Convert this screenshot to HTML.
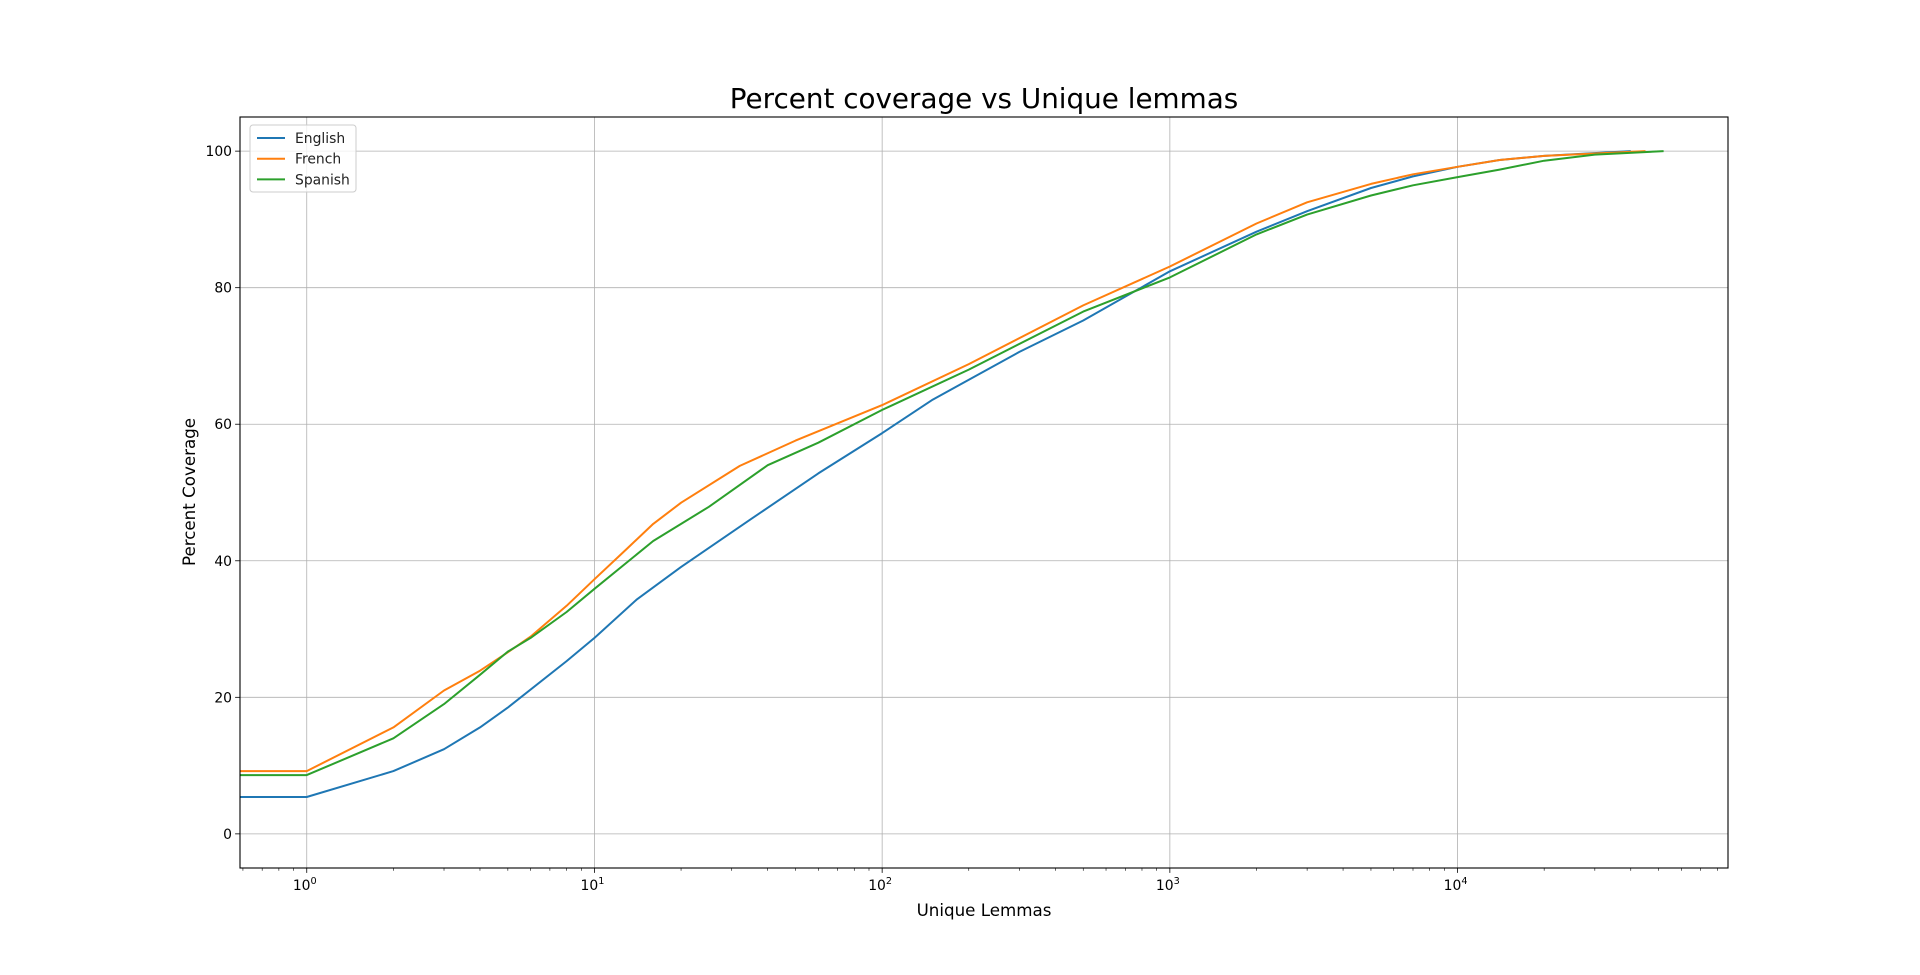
<!DOCTYPE html>
<html><head><meta charset="utf-8"><style>
html,body{margin:0;padding:0;background:#fff;}
svg{display:block;font-family:"DejaVu Sans","Liberation Sans",sans-serif;}
</style></head><body>
<svg id="chart" width="1920" height="975">
<text x="984" y="108" font-size="27.8" text-anchor="middle">Percent coverage vs Unique lemmas</text>
<g id="grid"></g>
<g id="series" clip-path="url(#clip)"></g>
<defs><clipPath id="clip"><rect x="240" y="117" width="1488" height="751"/></clipPath></defs>
<rect x="240" y="117" width="1488" height="751" fill="none" stroke="#000" stroke-width="1.1"/>
<g id="ticks"></g>
<text x="984" y="916" font-size="16.7" text-anchor="middle">Unique Lemmas</text>
<text transform="translate(195,492) rotate(-90)" font-size="16.7" text-anchor="middle">Percent Coverage</text>
<g id="legend"></g>
</svg>
<script>
const seriesNames = ["English","French","Spanish"];
const colors = ["#1f77b4","#ff7f0e","#2ca02c"];
const engX = [0,1,2,3,4,5,8,10,14,20,35,60,100,150,300,500,1000,2000,3000,5000,7000,10000,14000,20000,40000];
const engY = [5.4,5.4,9.2,12.4,15.6,18.5,25.3,28.7,34.3,39.1,46.1,52.8,58.7,63.6,70.6,75.2,82.4,88.2,91.2,94.6,96.3,97.7,98.7,99.3,100];
const freX = [0,1,2,3,4,5,6,8,10,13,16,20,32,50,100,200,500,1000,2000,3000,5000,7000,10000,14000,20000,45000];
const freY = [9.2,9.2,15.6,21,23.9,26.6,28.9,33.4,37.3,41.8,45.4,48.5,53.9,57.6,62.8,68.8,77.4,83.1,89.4,92.5,95.2,96.6,97.7,98.7,99.3,100];
const spaX = [0,1,2,3,4,5,6,8,10,16,25,40,60,100,200,500,1000,2000,3000,5000,7000,10000,14000,20000,30000,52000];
const spaY = [8.6,8.6,14,19,23.3,26.7,28.7,32.5,35.9,42.9,47.9,54.0,57.3,62.1,68,76.5,81.5,87.8,90.7,93.5,95.0,96.2,97.3,98.6,99.5,100];
const yTicks = [0,20,40,60,80,100];

const L=240,R=1728,T=117,B=868;
const lxMin=-0.232,lxMax=4.94,yMin=-5,yMax=105;
function xs(v){const lv=v<=0?lxMin-0.5:Math.log10(v);return L+(lv-lxMin)/(lxMax-lxMin)*(R-L);}
function ys(v){return B-(v-yMin)/(yMax-yMin)*(B-T);}
const NS="http://www.w3.org/2000/svg";
function mk(tag,attrs,parent){const e=document.createElementNS(NS,tag);for(const k in attrs)e.setAttribute(k,attrs[k]);parent.appendChild(e);return e;}
const grid=document.getElementById('grid'),ticks=document.getElementById('ticks'),ser=document.getElementById('series'),leg=document.getElementById('legend');

yTicks.forEach(t=>{const y=ys(t);
 const g=mk('line',{x1:L,x2:R,y1:y,y2:y,stroke:'#b0b0b0','stroke-width':0.8},grid);
 
 
 mk('line',{x1:L-4.9,x2:L,y1:y,y2:y,stroke:'#000','stroke-width':0.8},ticks);
 const tx=mk('text',{x:L-8,y:y+5,'font-size':13.9,'text-anchor':'end'},ticks);tx.textContent=t;
 
 
});
for(let d=-1;d<=5;d++){for(let m=1;m<10;m++){const v=m*Math.pow(10,d);const lv=Math.log10(v);if(lv<lxMin||lv>lxMax)continue;const x=xs(v);
 if(m===1){const g=mk('line',{x1:x,x2:x,y1:T,y2:B,stroke:'#b0b0b0','stroke-width':0.8},grid);
  
  
  mk('line',{x1:x,x2:x,y1:B,y2:B+4.9,stroke:'#000','stroke-width':0.8},ticks);
  const tx=mk('text',{x:x-2,y:B+22,'font-size':13.9,'text-anchor':'middle'},ticks);
  tx.innerHTML='10<tspan font-size="9.7" dy="-6">'+d+'</tspan>';
  
  
 } else mk('line',{x1:x,x2:x,y1:B,y2:B+2.8,stroke:'#000','stroke-width':0.6},ticks);
}}
const allX=[engX,freX,spaX],allY=[engY,freY,spaY];
allX.forEach((xa,i)=>{const pts=xa.map((v,j)=>xs(v).toFixed(1)+','+ys(allY[i][j]).toFixed(1)).join(' ');
 const p=mk('polyline',{points:pts,fill:'none',stroke:colors[i],'stroke-width':2,'stroke-linejoin':'round'},ser);
 
 
});
mk('rect',{x:250,y:125,width:106,height:67,rx:3,fill:'#fff','fill-opacity':0.8,stroke:'#ccc','stroke-width':1},leg);
seriesNames.forEach((n,i)=>{const y=138+i*20.7;
 const ln=mk('line',{x1:257,x2:285,y1:y,y2:y,stroke:colors[i],'stroke-width':2},leg);
 
 
 const t=mk('text',{x:295,y:y+5,'font-size':13.9,fill:'#222'},leg);t.textContent=n;
 
 
});
</script>
</body></html>
